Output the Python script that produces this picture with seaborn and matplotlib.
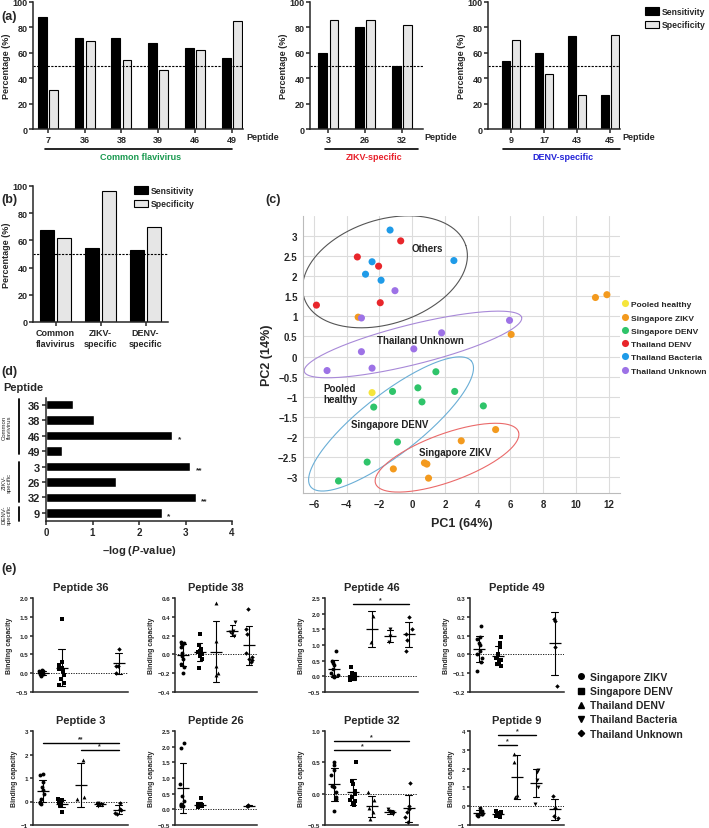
import numpy as np
import pandas as pd
import matplotlib.pyplot as plt
import seaborn as sns
from matplotlib.lines import Line2D
from matplotlib.patches import Patch

# --- Datos (a): sensibilidad / especificidad por péptido ---
common_peptides = ['7', '36', '38', '39', '46', '49']
common_sens = [88, 72, 72, 68, 64, 56]
common_spec = [30.5, 69, 54, 46.5, 62, 85]

zikv_peptides = ['3', '26', '32']
zikv_sens = [60, 80, 50]
zikv_spec = [86, 86, 82]

denv_peptides = ['9', '17', '43', '45']
denv_sens = [53.5, 60, 73.5, 27]
denv_spec = [70, 43.5, 26.5, 74]

# --- Datos (b): por grupo de péptidos ---
group_labels = ['Common\nflavivirus', 'ZIKV-\nspecific', 'DENV-\nspecific']
group_sens = [68, 54.5, 53]
group_spec = [61.5, 96.5, 69.5]

# --- Datos (c): PCA ---
pca_groups = ['Pooled healthy', 'Singapore ZIKV', 'Singapore DENV',
              'Thailand DENV', 'Thailand Bacteria', 'Thailand Unknown']
pooled_pc1 = [-2.45]
pooled_pc2 = [-0.9]
sgzikv_pc1 = [-3.3, 11.2, 11.9, 6.05, 5.1, 3.0, 0.75, 0.9, 1.0, -1.15]
sgzikv_pc2 = [0.98, 1.47, 1.54, 0.55, -1.82, -2.1, -2.65, -2.68, -3.03, -2.8]
sgdenv_pc1 = [1.45, -1.2, 0.35, 2.6, 0.6, -2.35, 4.35, -0.9, -2.75, -4.5]
sgdenv_pc2 = [-0.38, -0.87, -0.78, -0.87, -1.13, -1.26, -1.23, -2.13, -2.63, -3.1]
thdenv_pc1 = [-0.7, -3.35, -2.05, -1.95, -5.85]
thdenv_pc2 = [2.88, 2.48, 2.25, 1.34, 1.28]
thbact_pc1 = [-1.35, -2.45, -2.85, -1.9, 2.55]
thbact_pc2 = [3.15, 2.36, 2.05, 1.9, 2.39]
thunk_pc1 = [-1.05, -3.1, 1.8, 0.1, -3.1, -2.45, -5.2, 5.95]
thunk_pc2 = [1.64, 0.96, 0.59, 0.19, 0.12, -0.29, -0.35, 0.9]
pca_colors = ['#f5e53b', '#f39a1e', '#2fc46a', '#e8262b', '#1f9be8', '#9d72e6']

# --- Datos (d): -log(P) ---
d_peptides = ['36', '38', '46', '49', '3', '26', '32', '9']
d_logp = [0.58, 1.04, 2.72, 0.35, 3.10, 1.5, 3.22, 2.49]
d_stars = ['', '', '*', '', '**', '', '**', '*']

# --- Datos (e): capacidad de unión ---
e_groups = ['Singapore ZIKV', 'Singapore DENV', 'Thailand DENV',
            'Thailand Bacteria', 'Thailand Unknown']
e_markers = ['o', 's', '^', 'v', 'D']

pep36 = {'Singapore ZIKV': [0.08, 0.06, 0.05, 0.03, 0.02, 0.0, -0.01, -0.03, -0.05, -0.07],
         'Singapore DENV': [1.45, 0.3, 0.22, 0.15, 0.1, 0.05, -0.05, -0.15, -0.25, -0.32],
         'Thailand Unknown': [0.65, 0.2, 0.2, 0.0]}
pep38 = {'Singapore ZIKV': [0.13, 0.12, 0.1, 0.08, 0.02, -0.02, -0.05, -0.1, -0.13, -0.2],
         'Singapore DENV': [0.22, 0.1, 0.06, 0.04, 0.03, 0.02, 0.0, -0.02, -0.05, -0.14],
         'Thailand DENV': [0.55, 0.14, -0.12, -0.2, -0.22],
         'Thailand Bacteria': [0.35, 0.25, 0.24, 0.22, 0.2],
         'Thailand Unknown': [0.48, 0.27, 0.22, 0.02, -0.03, -0.06, -0.08, -0.05]}
pep46 = {'Singapore ZIKV': [0.82, 0.5, 0.42, 0.35, 0.25, 0.1, 0.05, 0.0, -0.02, 0.0],
         'Singapore DENV': [0.3, 0.1, 0.05, 0.02, 0.0, -0.02, -0.05, -0.08, -0.1, -0.12],
         'Thailand DENV': [1.93, 1.11],
         'Thailand Bacteria': [1.5, 1.28, 1.1],
         'Thailand Unknown': [1.9, 1.5, 1.35, 1.15, 0.82]}
pep49 = {'Singapore ZIKV': [0.15, 0.09, 0.08, 0.06, 0.05, 0.02, 0.0, -0.02, -0.04, -0.09],
         'Singapore DENV': [0.09, 0.06, 0.04, 0.0, -0.02, -0.03, -0.04, -0.05, -0.05, -0.06],
         'Thailand Unknown': [0.19, 0.18, 0.04, -0.17]}
pep3 = {'Singapore ZIKV': [1.15, 1.12, 0.85, 0.62, 0.5, 0.3, 0.1, 0.0, -0.05, -0.1],
        'Singapore DENV': [0.1, 0.05, 0.02, 0.0, -0.05, -0.08, -0.1, -0.15, -0.2, -0.45],
        'Thailand DENV': [1.78, 0.2, 0.12],
        'Thailand Bacteria': [-0.05, -0.1, -0.12, -0.15, -0.2],
        'Thailand Unknown': [-0.05, -0.3, -0.35, -0.5, -0.55]}
pep26 = {'Singapore ZIKV': [2.13, 1.97, 0.8, 0.42, 0.28, 0.18, 0.15, 0.12, 0.1],
         'Singapore DENV': [0.35, 0.18, 0.15, 0.12, 0.1, 0.08, 0.1, 0.12],
         'Thailand Unknown': [0.12, 0.11, 0.13]}
pep32 = {'Singapore ZIKV': [0.5, 0.46, 0.38, 0.3, 0.12, 0.1, 0.02, -0.05, -0.08, -0.28],
         'Singapore DENV': [0.5, 0.2, 0.15, 0.05, 0.0, -0.05, -0.12, -0.15, -0.18, -0.1],
         'Thailand DENV': [0.02, -0.1, -0.23, -0.3, -0.4],
         'Thailand Bacteria': [-0.25, -0.28, -0.3, -0.3, -0.33],
         'Thailand Unknown': [0.17, -0.2, -0.25, -0.3, -0.38, -0.45]}
pep9 = {'Singapore ZIKV': [-0.1, -0.25, -0.3, -0.35, -0.35, -0.4, -0.4, -0.45, -0.5],
        'Singapore DENV': [-0.25, -0.3, -0.35, -0.4, -0.4, -0.45, -0.45, -0.5, -0.55, -0.6],
        'Thailand DENV': [2.78, 2.35, 0.6, 0.48],
        'Thailand Bacteria': [1.9, 1.8, 1.4, 1.0, 0.1],
        'Thailand Unknown': [0.55, -0.1, -0.5, -0.65]}

# significancia: (grupo inicio, grupo fin, altura, etiqueta)
e_sig = {'46': [(1, 4, 2.3, '*')],
         '3': [(0, 4, 2.5, '**'), (2, 4, 2.2, '*')],
         '32': [(0, 4, 0.84, '*'), (0, 3, 0.70, '*')],
         '9': [(1, 3, 3.77, '*'), (1, 2, 3.23, '*')]}

# --- Estilo ---
sns.set_style('ticks')
plt.rcParams['font.family'] = ['Liberation Sans', 'DejaVu Sans']
plt.rcParams['font.weight'] = 'bold'
plt.rcParams['axes.labelweight'] = 'bold'
plt.rcParams['axes.titleweight'] = 'bold'
plt.rcParams['mathtext.fontset'] = 'custom'
plt.rcParams['mathtext.rm'] = 'Liberation Sans:bold'
plt.rcParams['mathtext.it'] = 'Liberation Sans:italic:bold'
np.random.seed(2)

W, H = 709, 829
fig = plt.figure(figsize=(W / 100, H / 100), dpi=100)


def add_ax(l, t, r, b):
    return fig.add_axes([l / W, 1 - b / H, (r - l) / W, (b - t) / H])


def style_axes(ax, lw=1.1, size=7, length=3):
    sns.despine(ax=ax)
    for s in ['left', 'bottom']:
        ax.spines[s].set_linewidth(lw)
    ax.tick_params(labelsize=size, width=lw, length=length, pad=1.5)


bar_palette = {'Sensitivity': 'black', 'Specificity': '#e6e6e6'}


def bar_panel(ax, labels, sens, spec, width, xlim):
    df = pd.DataFrame({'peptide': labels * 2,
                       'measure': ['Sensitivity'] * len(labels) + ['Specificity'] * len(labels),
                       'value': sens + spec})
    sns.barplot(data=df, x='peptide', y='value', hue='measure', palette=bar_palette,
                edgecolor='black', linewidth=0.8, width=width, gap=0.2, legend=False, ax=ax)
    ax.axhline(50, color='black', lw=0.8, ls=(0, (2, 1.2)))
    ax.set_ylim(0, 100)
    ax.set_yticks(range(0, 101, 20))
    ax.set_xlim(*xlim)
    ax.set_xlabel('')
    style_axes(ax, size=6.5)
    ax.tick_params(axis='y', pad=1)
    ax.set_ylabel('Percentage (%)', fontsize=6.5, labelpad=1)


# (a)
ax_a1 = add_ax(33, 3, 243, 130)
bar_panel(ax_a1, common_peptides, common_sens, common_spec, 0.6, (-0.4, 5.3))
ax_a2 = add_ax(310, 3, 423, 130)
bar_panel(ax_a2, zikv_peptides, zikv_sens, zikv_spec, 0.6, (-0.5, 2.57))
ax_a3 = add_ax(488, 3, 620, 130)
bar_panel(ax_a3, denv_peptides, denv_sens, denv_spec, 0.6, (-0.7, 3.3))

for ax, x0, x1, xc, txt, col in [(ax_a1, 0.057, 0.948, 0.51, 'Common flavivirus', '#1a9a50'),
                                 (ax_a2, 0.133, 0.956, 0.566, 'ZIKV-specific', '#e8202a'),
                                 (ax_a3, 0.114, 1.0, 0.57, 'DENV-specific', '#2424d8')]:
    ax.text(1.015, -0.06, 'Peptide', transform=ax.transAxes, ha='left', va='center', fontsize=6.5)
    ax.plot([x0, x1], [-0.157, -0.157], transform=ax.transAxes, color='black', lw=1.2, clip_on=False)
    ax.text(xc, -0.22, txt, transform=ax.transAxes, ha='center', va='center', fontsize=6.5, color=col)

leg_handles = [Patch(facecolor='black', edgecolor='black', lw=0.8),
               Patch(facecolor='#e6e6e6', edgecolor='black', lw=0.8)]
fig.legend(leg_handles, ['Sensitivity', 'Specificity'], loc='upper left',
           bbox_to_anchor=(645 / W, 1 - 8 / H), frameon=False, fontsize=6.2,
           handlelength=1.6, handleheight=0.9, handletextpad=0.4, labelspacing=0.5,
           borderaxespad=0, borderpad=0)
fig.text(1 / W, 1 - 17 / H, '(a)', fontsize=9, va='center')

# (b)
ax_b = add_ax(33, 187, 168, 323)
bar_panel(ax_b, group_labels, group_sens, group_spec, 0.75, (-0.5, 2.5))
fig.legend(leg_handles, ['Sensitivity', 'Specificity'], loc='upper left',
           bbox_to_anchor=(134 / W, 1 - 187 / H), frameon=False, fontsize=6.2,
           handlelength=1.6, handleheight=0.9, handletextpad=0.4, labelspacing=0.5,
           borderaxespad=0, borderpad=0)
fig.text(1 / W, 1 - 200 / H, '(b)', fontsize=9, va='center')

# (c)
pca_df = pd.concat([
    pd.DataFrame({'PC1': pooled_pc1, 'PC2': pooled_pc2, 'group': pca_groups[0]}),
    pd.DataFrame({'PC1': sgzikv_pc1, 'PC2': sgzikv_pc2, 'group': pca_groups[1]}),
    pd.DataFrame({'PC1': sgdenv_pc1, 'PC2': sgdenv_pc2, 'group': pca_groups[2]}),
    pd.DataFrame({'PC1': thdenv_pc1, 'PC2': thdenv_pc2, 'group': pca_groups[3]}),
    pd.DataFrame({'PC1': thbact_pc1, 'PC2': thbact_pc2, 'group': pca_groups[4]}),
    pd.DataFrame({'PC1': thunk_pc1, 'PC2': thunk_pc2, 'group': pca_groups[5]}),
], ignore_index=True)

ax_c = add_ax(303, 217, 620, 494)
sns.scatterplot(data=pca_df, x='PC1', y='PC2', hue='group', hue_order=pca_groups,
                palette=pca_colors, s=26, edgecolor='none', zorder=3, ax=ax_c)
ax_c.set_xlim(-6.67, 12.7)
ax_c.set_ylim(-3.4, 3.5)
ax_c.set_xticks(range(-6, 13, 2))
yt = np.arange(-3, 3.01, 0.5)
ax_c.set_yticks(yt)
ax_c.set_yticklabels([f'{v:g}'.replace('-', '\u2212') for v in yt])
ax_c.grid(True, color='#dcdcdc', lw=0.8)
ax_c.set_axisbelow(True)
sns.despine(ax=ax_c)
for s in ['left', 'bottom']:
    ax_c.spines[s].set_color('#bbbbbb')
ax_c.tick_params(labelsize=7, length=0, pad=4)
ax_c.set_xlabel('PC1 (64%)', fontsize=9, labelpad=6)
ax_c.set_ylabel('PC2 (14%)', fontsize=9, labelpad=4)
sns.move_legend(ax_c, 'upper left', bbox_to_anchor=(0.99, 0.695), frameon=False, title=None,
                fontsize=6, handletextpad=-0.3, labelspacing=0.65, borderaxespad=0, borderpad=0)


def draw_ellipse(ax, cx, cy, a_px, b_px, angle, color):
    t = np.linspace(0, 2 * np.pi, 200)
    c = ax.transData.transform((cx, cy))
    th = np.deg2rad(angle)
    xs = c[0] + a_px * np.cos(t) * np.cos(th) - b_px * np.sin(t) * np.sin(th)
    ys = c[1] + a_px * np.cos(t) * np.sin(th) + b_px * np.sin(t) * np.cos(th)
    pts = ax.transData.inverted().transform(np.column_stack([xs, ys]))
    ax.plot(pts[:, 0], pts[:, 1], color=color, lw=0.8, zorder=2)


draw_ellipse(ax_c, -1.66, 2.11, 85, 52, 18, '#555555')
draw_ellipse(ax_c, 0.05, 0.30, 112, 20, 14, '#a889d8')
draw_ellipse(ax_c, -1.29, -1.68, 102, 30, 38, '#6aaed6')
draw_ellipse(ax_c, 2.13, -2.52, 76, 24, 20, '#ea6a6a')
ax_c.text(0.95, 2.7, 'Others', fontsize=7, ha='center', va='center', color='#222222')
ax_c.text(0.5, 0.42, 'Thailand Unknown', fontsize=7, ha='center', va='center', color='#222222')
ax_c.text(-5.45, -0.93, 'Pooled\nhealthy', fontsize=7, ha='left', va='center', color='#222222',
          linespacing=1.1)
ax_c.text(-1.35, -1.68, 'Singapore DENV', fontsize=7, ha='center', va='center', color='#222222')
ax_c.text(2.65, -2.38, 'Singapore ZIKV', fontsize=7, ha='center', va='center', color='#222222')
fig.text(265 / W, 1 - 200 / H, '(c)', fontsize=9, va='center')

# (d)
ddf = pd.DataFrame({'peptide': d_peptides, 'logp': d_logp})
ax_d = add_ax(46, 399, 232, 522)
sns.barplot(data=ddf, x='logp', y='peptide', color='black', width=0.62, ax=ax_d)
ax_d.set_xlim(0, 4)
ax_d.set_ylim(7.52, -0.43)
ax_d.set_xticks(range(0, 5))
for i, (v, s) in enumerate(zip(d_logp, d_stars)):
    ax_d.text(v + 0.12, i + 0.18, s, ha='left', va='center', fontsize=6)
style_axes(ax_d, size=7)
ax_d.tick_params(axis='y', labelsize=8)
ax_d.set_ylabel('')
ax_d.set_xlabel('\u2013log ($\\mathit{P}$-value)', fontsize=8, labelpad=4)
yax = ax_d.get_yaxis_transform()
for y0, y1, txt in [(-0.37, 3.19, 'Common\nflavivirus'), (3.68, 6.3, 'ZIKV-\nspecific'),
                    (6.6, 7.5, 'DENV-\nspecific')]:
    ax_d.plot([-0.143, -0.143], [y0, y1], transform=yax, color='black', lw=1.3, clip_on=False)
    ax_d.text(-0.21, (y0 + y1) / 2, txt, transform=yax, rotation=90, ha='center', va='center',
              fontsize=4.3, fontweight='normal', linespacing=1.0)
fig.text(3 / W, 1 - 388 / H, 'Peptide', fontsize=8, va='center')
fig.text(1 / W, 1 - 372 / H, '(d)', fontsize=9, va='center')

# (e)
e_panels = [('36', pep36, (-0.5, 2.0), 0.5), ('38', pep38, (-0.4, 0.6), 0.2),
            ('46', pep46, (-0.5, 2.5), 0.5), ('49', pep49, (-0.2, 0.3), 0.1),
            ('3', pep3, (-1, 3), 1), ('26', pep26, (-0.5, 2.5), 0.5),
            ('32', pep32, (-0.5, 1.0), 0.5), ('9', pep9, (-1, 4), 1)]
cols = [(33, 128), (175, 257), (325, 418), (470, 564)]
rows = [(599, 693), (732, 826)]

for k, (name, data, ylim, step) in enumerate(e_panels):
    l, r = cols[k % 4]
    t, b = rows[k // 4]
    ax = add_ax(l, t, r, b)
    recs = [(g, v) for g in e_groups if g in data for v in data[g]]
    df = pd.DataFrame(recs, columns=['group', 'value'])
    for g, m in zip(e_groups, e_markers):
        if g in data:
            sns.stripplot(data=df[df['group'] == g], x='group', y='value', order=e_groups,
                          marker=m, color='black', size=2.8 if m != 'D' else 2.3,
                          jitter=0.18, ax=ax)
    sns.pointplot(data=df, x='group', y='value', order=e_groups, errorbar='sd', color='black',
                  marker='_', markersize=8, markeredgewidth=0.9, linestyle='none',
                  capsize=0.35, err_kws={'linewidth': 0.8}, ax=ax)
    ax.axhline(0, color='black', lw=0.6, ls=(0, (1.5, 1.5)), zorder=0)
    for g0, g1, y, lab in e_sig.get(name, []):
        ax.plot([g0, g1], [y, y], color='black', lw=1.0)
        ax.text((g0 + g1) / 2, y + (ylim[1] - ylim[0]) * 0.01, lab, ha='center', va='bottom',
                fontsize=5)
    ax.set_xlim(-0.5, 4.5)
    ax.set_ylim(*ylim)
    ticks = np.arange(ylim[0], ylim[1] + step / 2, step)
    ax.set_yticks(ticks)
    fmt = '{:.0f}' if step >= 1 else '{:.1f}'
    ax.set_yticklabels([fmt.format(v + 0.0).replace('-', '\u2212') for v in ticks])
    ax.set_xticks([])
    ax.set_xlabel('')
    ax.set_ylabel('Binding capacity', fontsize=5, labelpad=2)
    style_axes(ax, lw=1.1, size=4.5, length=2)
    ax.set_title(f'Peptide {name}', fontsize=8, pad=6)

e_handles = [Line2D([], [], marker=m, color='black', ls='none',
                    markersize=4 if m != 'D' else 3.2) for m in e_markers]
fig.legend(e_handles, e_groups, loc='upper left', bbox_to_anchor=(576 / W, 1 - 673 / H),
           frameon=False, fontsize=7.5, handletextpad=0.3, labelspacing=0.4,
           handlelength=1.0, borderaxespad=0, borderpad=0)
fig.text(1 / W, 1 - 569 / H, '(e)', fontsize=9, va='center')

fig.savefig('out.png', dpi=100)
print('out.png guardado')
